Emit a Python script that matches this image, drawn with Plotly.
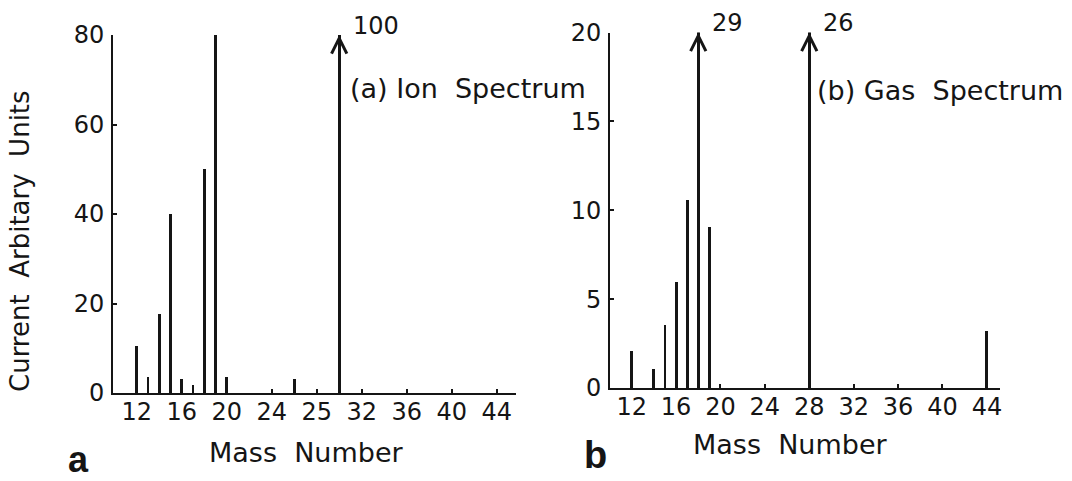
import plotly.graph_objects as go

# ---- data ----
ion_mass = [12, 13, 14, 15, 16, 17, 18, 19, 20, 26, 30]
ion_current = [10.5, 3.5, 17.6, 40, 3.2, 1.7, 50, 80, 3.5, 3.2, 100]
gas_mass = [12, 14, 15, 16, 17, 18, 19, 28, 44]
gas_current = [2.1, 1.1, 3.6, 6.0, 10.6, 29, 9.1, 26, 3.25]

x_tickvals = [12, 16, 20, 24, 28, 32, 36, 40, 44]
ion_ticktext = ["12", "16", "20", "24", "25", "32", "36", "40", "44"]
gas_ticktext = ["12", "16", "20", "24", "28", "32", "36", "40", "44"]
ion_yticks = [0, 20, 40, 60, 80]
gas_yticks = [0, 5, 10, 15, 20]
ion_ymax = 80
gas_ymax = 20

INK = "#151515"
FONT = "DejaVu Sans"
NB = "\u00a0"

fig = go.Figure()
fig.add_trace(go.Bar(x=ion_mass, y=ion_current, width=0.26, marker=dict(color=INK, line=dict(width=0)),
                     xaxis="x", yaxis="y", showlegend=False, hoverinfo="skip"))
fig.add_trace(go.Bar(x=gas_mass, y=gas_current, width=0.26, marker=dict(color=INK, line=dict(width=0)),
                     xaxis="x2", yaxis="y2", showlegend=False, hoverinfo="skip"))

axis_common = dict(showline=True, linewidth=2, linecolor=INK, showgrid=False, zeroline=False,
                   automargin=False, tickcolor=INK, tickfont=dict(family=FONT, size=24, color=INK))

fig.update_layout(
    template="none",
    width=1072, height=481,
    margin=dict(l=0, r=0, t=0, b=0, pad=0, autoexpand=False),
    paper_bgcolor="white", plot_bgcolor="white",
    showlegend=False,
    bargap=0,
    xaxis=dict(domain=[113/1072, 516/1072], range=[9.89, 45.72], anchor="y",
               tickmode="array", tickvals=x_tickvals, ticktext=ion_ticktext,
               ticks="inside", ticklen=4, tickwidth=1.5, ticklabelstandoff=-4, **axis_common),
    yaxis=dict(domain=[(481-393)/481, (481-35)/481], range=[0, ion_ymax], anchor="x",
               tickmode="array", tickvals=ion_yticks,
               ticks="inside", ticklen=4, tickwidth=1.5, ticklabelstandoff=2, **axis_common),
    xaxis2=dict(domain=[610/1072, 1000/1072], range=[10.05, 45.18], anchor="y2",
                tickmode="array", tickvals=x_tickvals, ticktext=gas_ticktext,
                ticks="inside", ticklen=4, tickwidth=1.5, ticklabelstandoff=-4, **axis_common),
    yaxis2=dict(domain=[(481-388)/481, (481-32.5)/481], range=[0, gas_ymax], anchor="x2",
                tickmode="array", tickvals=gas_yticks,
                ticks="inside", ticklen=4, tickwidth=1.5, ticklabelstandoff=2, **axis_common),
)

def fmt(v):
    return str(int(v)) if float(v).is_integer() else str(v)

annotations = []
for masses, values, ymax, xr, yr in [(ion_mass, ion_current, ion_ymax, "x", "y"),
                                      (gas_mass, gas_current, gas_ymax, "x2", "y2")]:
    for m, v in zip(masses, values):
        if v > ymax:
            annotations.append(dict(x=m, y=ymax, xref=xr, yref=yr, ax=0, ay=30, text=" ",
                                    showarrow=True, arrowhead=5, arrowsize=1.5, arrowwidth=2,
                                    arrowcolor=INK, standoff=0))
            annotations.append(dict(x=m, y=ymax, xref=xr, yref=yr, text=fmt(v), showarrow=False,
                                    xanchor="left", yanchor="middle", xshift=12, yshift=9,
                                    font=dict(family=FONT, size=24, color=INK)))

txt = dict(family=FONT, size=27, color=INK)
annotations += [
    dict(x=348/1072, y=(481-88)/481, xref="paper", yref="paper", xanchor="left", yanchor="middle",
         text=f"(a) Ion{NB}{NB}Spectrum", showarrow=False, font=txt),
    dict(x=815/1072, y=(481-90)/481, xref="paper", yref="paper", xanchor="left", yanchor="middle",
         text=f"(b) Gas{NB}{NB}Spectrum", showarrow=False, font=txt),
    dict(x=306/1072, y=(481-452)/481, xref="paper", yref="paper", xanchor="center", yanchor="middle",
         text=f"Mass{NB}{NB}Number", showarrow=False, font=txt),
    dict(x=790/1072, y=(481-444)/481, xref="paper", yref="paper", xanchor="center", yanchor="middle",
         text=f"Mass{NB}{NB}Number", showarrow=False, font=txt),
    dict(x=20/1072, y=(481-241)/481, xref="paper", yref="paper", xanchor="center", yanchor="middle",
         text=f"Current{NB}{NB}Arbitary{NB}{NB}Units", textangle=-90, showarrow=False,
         font=dict(family=FONT, size=26, color=INK)),
    dict(x=78/1072, y=(481-459)/481, xref="paper", yref="paper", xanchor="center", yanchor="middle",
         text="<b>a</b>", showarrow=False, font=dict(family="Liberation Sans", size=36, color=INK)),
    dict(x=595/1072, y=(481-455)/481, xref="paper", yref="paper", xanchor="center", yanchor="middle",
         text="<b>b</b>", showarrow=False, font=dict(family="Liberation Sans", size=38, color=INK)),
]
fig.update_layout(annotations=annotations)

fig.write_html("out.html", config={"displayModeBar": False},
               post_script="document.body.style.margin='0';")
